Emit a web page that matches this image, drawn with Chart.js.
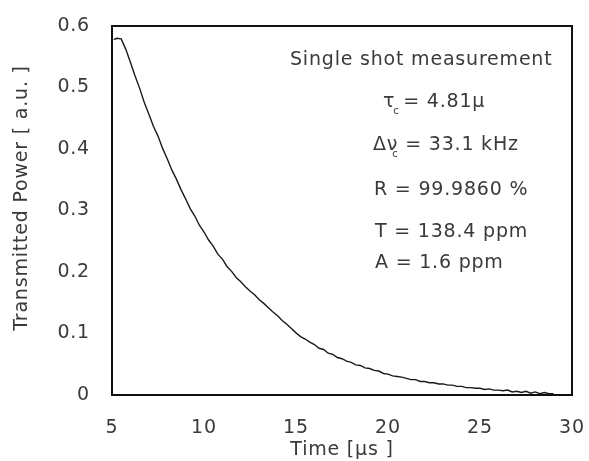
<!DOCTYPE html>
<html>
<head>
<meta charset="utf-8">
<script src="https://cdn.jsdelivr.net/npm/chart.js@4/dist/chart.umd.min.js"></script>
<style>
html,body{margin:0;padding:0;background:#fff}
#wrap{width:589px;height:461px}
</style>
</head>
<body>
<div id="wrap"><canvas id="decayChart" width="589" height="461"></canvas></div>
<script>
// ring-down trace (time in us, power in a.u.)
const times = [5.1,5.25,5.5,5.75,6.0,6.25,6.5,6.75,7.0,7.25,7.5,7.75,8.0,8.25,8.5,8.75,9.0,9.25,9.5,9.75,
10.0,10.25,10.5,10.75,11.0,11.25,11.5,11.75,12.0,12.25,12.5,12.75,13.0,13.25,13.5,13.75,14.0,14.25,14.5,14.75,
15.0,15.25,15.5,15.75,16.0,16.25,16.5,16.75,17.0,17.25,17.5,17.75,18.0,18.25,18.5,18.75,19.0,19.25,19.5,19.75,
20.0,20.25,20.5,20.75,21.0,21.25,21.5,21.75,22.0,22.25,22.5,22.75,23.0,23.25,23.5,23.75,24.0,24.25,24.5,24.75,
25.0,25.25,25.5,25.75,26.0,26.25,26.5,26.75,27.0,27.25,27.5,27.75,28.0,28.25,28.5,28.75,29.0]
const power = [0.578,0.580,0.579,0.562,0.541,0.519,0.499,0.476,0.457,0.437,0.421,0.401,0.384,0.366,0.351,0.334,0.319,0.303,0.291,0.276,
0.265,0.252,0.242,0.229,0.221,0.209,0.201,0.191,0.184,0.176,0.169,0.163,0.155,0.149,0.142,0.135,0.129,0.121,0.115,0.108,
0.101,0.095,0.091,0.086,0.082,0.076,0.074,0.068,0.066,0.061,0.059,0.055,0.053,0.049,0.048,0.044,0.043,0.040,0.039,0.035,
0.034,0.031,0.030,0.029,0.027,0.025,0.025,0.022,0.022,0.020,0.020,0.018,0.018,0.016,0.016,0.014,0.014,0.012,0.012,0.011,
0.011,0.009,0.010,0.008,0.008,0.007,0.008,0.005,0.006,0.004,0.006,0.003,0.005,0.002,0.004,0.002,0.002]

const xTicks = [5,10,15,20,25,30]
const yTicks = [0,0.1,0.2,0.3,0.4,0.5,0.6]

const fontFam = "'DejaVu Sans', sans-serif"
const textCol = "#3a3a3a"
const spacing = "0.8px"

// the reference text is widely tracked
const trackingPlugin = {
id:"tracking",
beforeLayout(chart){chart.ctx.letterSpacing = spacing},
beforeDraw(chart){chart.ctx.letterSpacing = spacing}
}

// frame round the plot, y title and the fit results text
const framePlugin = {
id:"frame",
afterDraw(chart){
const {ctx, chartArea:a} = chart
ctx.save()
ctx.strokeStyle = "#111"
ctx.lineWidth = 2
ctx.strokeRect(a.left, a.top, a.right-a.left, a.bottom-a.top)

ctx.fillStyle = textCol
ctx.textBaseline = "middle"
const big = "19px " + fontFam
const small = "10px " + fontFam

ctx.save()
ctx.translate(22, 198)
ctx.rotate(-Math.PI/2)
ctx.textAlign = "center"
ctx.font = big
ctx.fillText("Transmitted Power [ a.u. ]", 0, 0)
ctx.restore()

ctx.textAlign = "left"
ctx.font = big
ctx.fillText("Single shot measurement", 290, 60)

// tau_c line
let x = 383
ctx.fillText("\u03c4", x, 102)
x += ctx.measureText("\u03c4").width
ctx.font = small
ctx.fillText("c", x - 2, 111)
ctx.font = big
ctx.fillText("= 4.81\u00b5", x + 8, 102)

// delta nu_c line
x = 373
ctx.fillText("\u0394\u03bd", x, 145)
x += ctx.measureText("\u0394\u03bd").width
ctx.font = small
ctx.fillText("c", x - 6, 154)
ctx.font = big
ctx.fillText("= 33.1 kHz", x + 7, 145)

ctx.fillText("R = 99.9860 %", 374, 190)
ctx.fillText("T = 138.4 ppm", 375, 232)
ctx.fillText("A = 1.6 ppm", 375, 263)
ctx.restore()
}
}

const decayChart = new Chart(document.getElementById("decayChart"),{

type:"line",

data:{
labels:times,
datasets:[{
data:times.map((t,i)=>({x:t,y:power[i]})),
borderColor:"#1a1a1a",
borderWidth:1.4,
pointRadius:0,
tension:0
}]
},

options:{
responsive:false,
animation:false,
layout:{padding:{top:26,right:17,left:0,bottom:0}},
plugins:{legend:{display:false},tooltip:{enabled:false}},
scales:{
x:{
type:"linear",
min:5,max:30,
grid:{display:true,drawOnChartArea:false,drawTicks:true,tickLength:22,color:"rgba(0,0,0,0)"},
border:{display:false},
afterBuildTicks(s){s.ticks = xTicks.map(v=>({value:v}))},
afterFit(s){s.height = 66},
ticks:{padding:0,color:textCol,font:{family:fontFam,size:19},maxRotation:0},
title:{display:true,text:"Time [\u00b5s ]",color:textCol,font:{family:fontFam,size:19},padding:{top:0,bottom:0}}
},
y:{
min:0,max:0.6,
grid:{display:true,drawOnChartArea:false,drawTicks:true,tickLength:22,color:"rgba(0,0,0,0)"},
border:{display:false},
afterBuildTicks(s){s.ticks = yTicks.map(v=>({value:v}))},
afterFit(s){s.width = 112},
ticks:{padding:0,color:textCol,font:{family:fontFam,size:19},callback:v=>v===0?"0":v.toFixed(1)}
}
}
},

plugins:[trackingPlugin,framePlugin]

})
</script>
</body>
</html>
